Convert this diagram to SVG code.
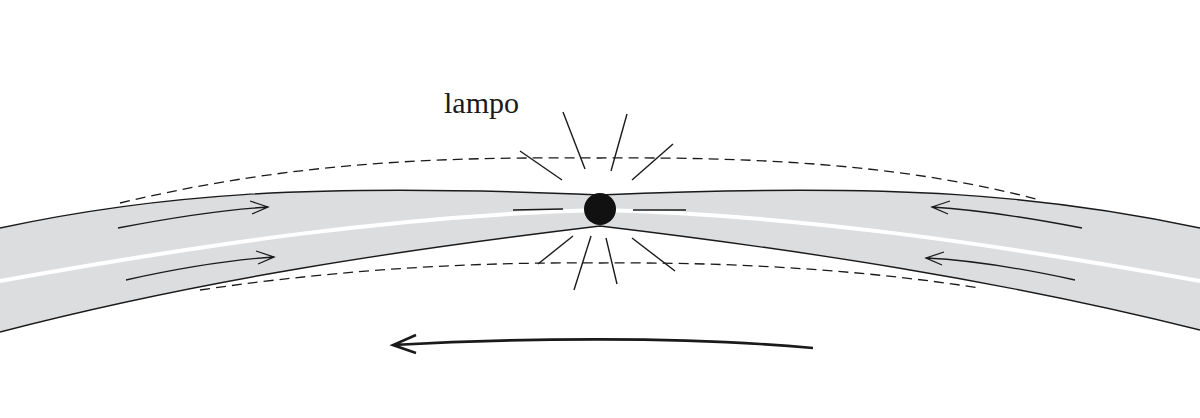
<svg xmlns="http://www.w3.org/2000/svg" width="1200" height="418" viewBox="0 0 1200 418">
<style>
.band{fill:#dcdddf;stroke:none}
.edge{fill:none;stroke:#1a1a1a;stroke-width:1.4}
.dash{fill:none;stroke:#1a1a1a;stroke-width:1.3;stroke-dasharray:10 6}
.ray{stroke:#1a1a1a;stroke-width:1.4}
.arr{fill:none;stroke:#1a1a1a;stroke-width:1.3}
</style>
<rect width="1200" height="418" fill="#fff"/>
<g id="road">
<path class="band" d="M0,228 C150,196 300,182 600,195 C900,182 1050,196 1200,228 L1200,330 C1000,280 800,250 600,226 C400,250 200,280 0,332 Z"/>
<path class="edge" d="M0,228 C150,196 300,182 600,195 C900,182 1050,196 1200,228"/>
<path class="edge" d="M1200,330 C1000,280 800,250 600,226 C400,250 200,280 0,332"/>
<path d="M0,281 C200,245 400,215 600,210 C800,215 1000,245 1200,281" fill="none" stroke="#fff" stroke-width="4"/>
<path class="dash" d="M120,203 C300,160 450,157 600,158 C750,157 900,163 1040,200"/>
<path class="dash" d="M200,290 C350,268 480,262 600,263 C720,262 850,268 980,288"/>
</g>
<g id="lampo">
<circle cx="600" cy="209" r="16" fill="#111"/>
<line class="ray" x1="563" y1="112" x2="585" y2="169"/>
<line class="ray" x1="627" y1="114" x2="611" y2="171"/>
<line class="ray" x1="520" y1="151" x2="562" y2="180"/>
<line class="ray" x1="673" y1="144" x2="632" y2="180"/>
<line class="ray" x1="513" y1="210" x2="563" y2="209"/>
<line class="ray" x1="633" y1="210" x2="686" y2="210"/>
<line class="ray" x1="573" y1="236" x2="538" y2="264"/>
<line class="ray" x1="591" y1="236" x2="574" y2="290"/>
<line class="ray" x1="606" y1="238" x2="617" y2="284"/>
<line class="ray" x1="632" y1="238" x2="675" y2="271"/>
<text x="444" y="113" font-family="Liberation Serif, serif" font-size="30" fill="#1a1a1a">lampo</text>
</g>
<g id="connectors">
<path class="arr" d="M118,228 C170,218 220,210 268,207 M250,201 L268,207 L252,214"/>
<path class="arr" d="M126,280 C180,268 230,260 274,257 M256,251 L274,257 L258,264"/>
<path class="arr" d="M1082,228 C1030,218 980,210 932,207 M950,201 L932,207 L948,214"/>
<path class="arr" d="M1075,280 C1020,268 970,260 926,258 M944,252 L926,258 L942,265"/>
<path d="M813,348 C680,336 520,338 393,345 M416,335 L393,345 L416,353" fill="none" stroke="#1a1a1a" stroke-width="2.6"/>
</g>
</svg>
